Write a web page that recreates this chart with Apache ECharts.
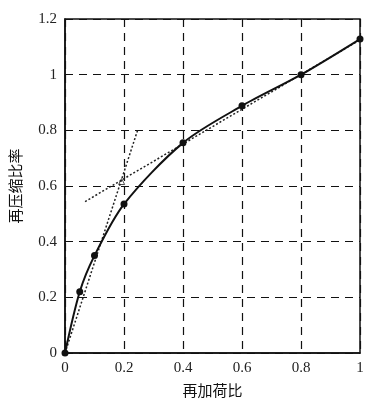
<!DOCTYPE html>
<html><head><meta charset="utf-8">
<script src="https://cdn.jsdelivr.net/npm/echarts@6/dist/echarts.min.js"></script>
<style>html,body{margin:0;padding:0;background:#fff}#c{width:381px;height:403px}</style>
</head><body><div id="c"></div>
<script>
var xTicks = [0, 0.2, 0.4, 0.6, 0.8, 1];
var yTicks = [0, 0.2, 0.4, 0.6, 0.8, 1, 1.2];
var loadRatio = [0, 0.05, 0.1, 0.2, 0.4, 0.6, 0.8, 1.0];
var recompRatio = [0, 0.22, 0.35, 0.535, 0.755, 0.888, 1.0, 1.128];
var tangent1X = [0, 0.246];
var tangent1Y = [0, 0.80];
var tangent2X = [0.068, 1.04];
var tangent2Y = [0.544, 1.15];
var crossX = [0.192];
var crossY = [0.616];
var xName = '再加荷比';
var yName = '再压缩比率';

function pairs(xs, ys){ return xs.map(function(x,i){ return [x, ys[i]]; }); }
var serif = '"Liberation Serif","DejaVu Serif",serif';
var cjk = '"Noto Sans CJK SC","Noto Sans CJK JP",sans-serif';
var chart = echarts.init(document.getElementById('c'));
chart.setOption({
  animation: false,
  backgroundColor: '#fff',
  grid: {left: 63, right: 21, top: 19, bottom: 50, show: true, borderColor: '#111', borderWidth: 1.5},
  xAxis: {
    type: 'value', min: xTicks[0], max: xTicks[xTicks.length-1], interval: 0.2,
    name: xName, nameLocation: 'middle', nameGap: 30,
    nameTextStyle: {fontFamily: cjk, fontSize: 15, color: '#111'},
    axisLine: {show: true, lineStyle: {color: '#111', width: 1.5}},
    axisTick: {show: false},
    axisLabel: {fontFamily: serif, fontSize: 15, color: '#222', margin: 8},
    splitLine: {show: true, lineStyle: {color: '#111', type: [8, 6], width: 1.2}}
  },
  yAxis: {
    type: 'value', min: yTicks[0], max: yTicks[yTicks.length-1], interval: 0.2,
    name: yName, nameLocation: 'middle', nameGap: 42, nameRotate: 90,
    nameTextStyle: {fontFamily: cjk, fontSize: 15, color: '#111'},
    axisLine: {show: true, lineStyle: {color: '#111', width: 1.5}},
    axisTick: {show: false},
    axisLabel: {fontFamily: serif, fontSize: 15, color: '#222', margin: 8},
    splitLine: {show: true, lineStyle: {color: '#111', type: [8, 6], width: 1.2}}
  },
  series: [
    {type: 'line', data: pairs(tangent1X, tangent1Y), symbol: 'none', clip: false,
     lineStyle: {color: '#222', width: 1.5, type: [2, 2]}},
    {type: 'line', data: pairs(tangent2X, tangent2Y), symbol: 'none', clip: false,
     lineStyle: {color: '#222', width: 1.5, type: [2, 2]}},
    {type: 'line', data: pairs(loadRatio, recompRatio), smooth: 0.3, clip: false,
     symbol: 'circle', symbolSize: 7,
     itemStyle: {color: '#111'},
     lineStyle: {color: '#111', width: 2}},
    {type: 'scatter', data: pairs(crossX, crossY), symbol: 'triangle', symbolSize: 6,
     itemStyle: {color: 'rgba(0,0,0,0)', borderColor: '#222', borderWidth: 1}}
  ]
});
</script></body></html>
